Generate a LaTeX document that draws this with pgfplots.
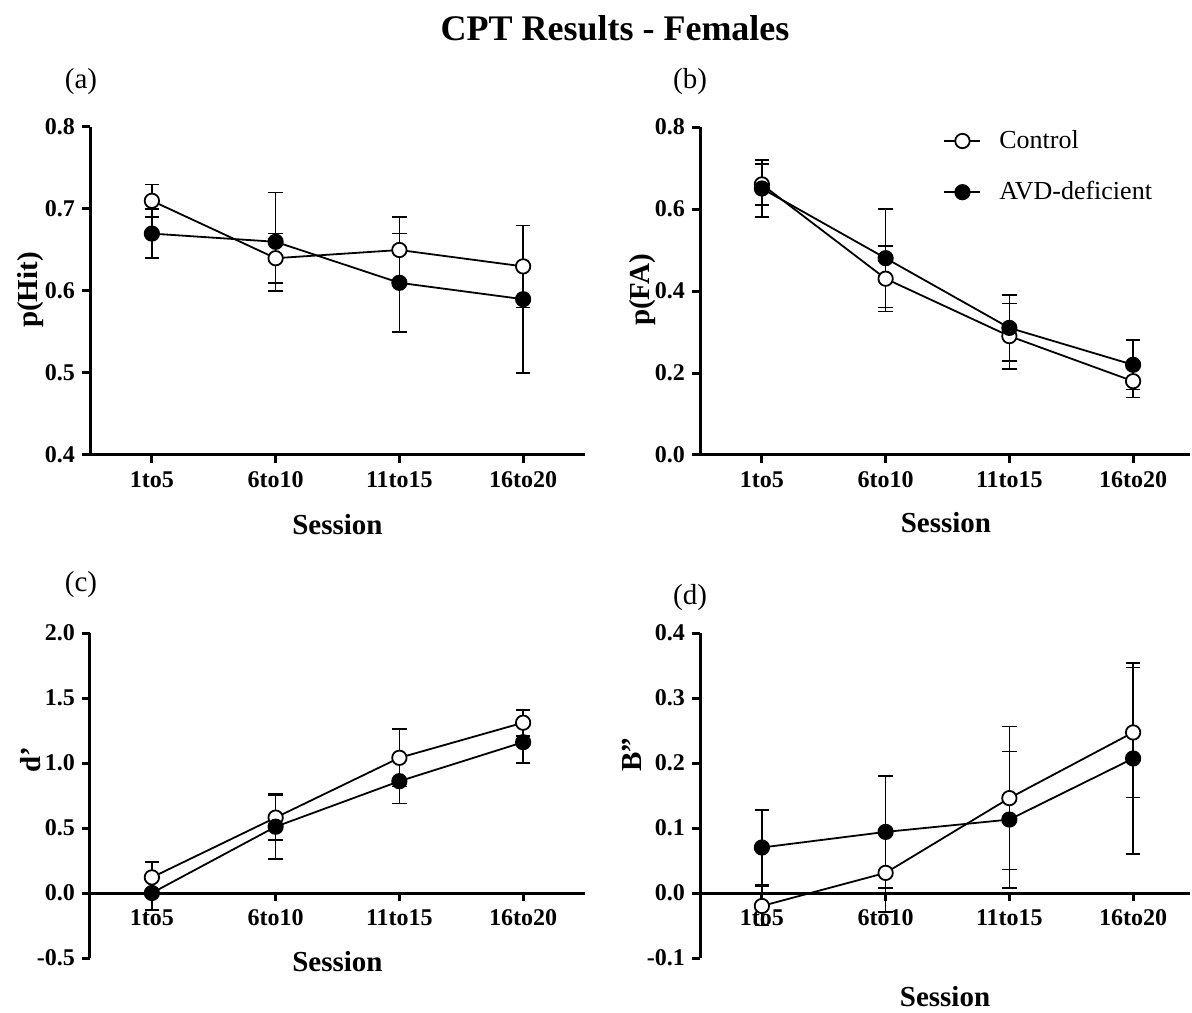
\documentclass[border=0pt]{standalone}
\usepackage{pgfplots}
\pgfplotsset{compat=1.18}
\usepackage{fontspec}
\setmainfont{Liberation Serif}

\pgfplotsset{
  cpt/.style={
    scale only axis,
    clip=false,
    xmin=-0.5, xmax=3.5,
    xtick={0,1,2,3},
    xticklabels={1to5,6to10,11to15,16to20},
    axis y line*=left,
    axis line style={line width=1.5pt},
    every tick/.style={black, line width=1.5pt},
    major tick length=4pt,
    tick align=outside,
    hide obscured x ticks=false,
    hide obscured y ticks=false,
    /pgf/number format/assume math mode=true,
    ticklabel style={font=\fontsize{12}{14}\selectfont\bfseries},
    xticklabel style={text height=8.5pt, text depth=0pt},
    yticklabel style={/pgf/number format/.cd, fixed, fixed zerofill, precision=1},
    label style={font=\fontsize{14.5}{16}\selectfont\bfseries},
    xlabel={Session},
  },
  ctrl/.style={black, line width=0.9pt, mark=*, mark size=3.6pt,
    mark options={fill=white, line width=0.9pt},
    error bars/.cd, y dir=both, y explicit,
    error bar style={line width=0.8pt},
    error mark options={rotate=90, line width=0.8pt, mark size=3.6pt}},
  avd/.style={black, line width=0.9pt, mark=*, mark size=3.6pt,
    mark options={fill=black, line width=0.9pt},
    error bars/.cd, y dir=both, y explicit,
    error bar style={line width=0.8pt},
    error mark options={rotate=90, line width=0.8pt, mark size=3.6pt}},
}

\begin{document}
\begin{tikzpicture}
\useasboundingbox (0,0) rectangle (596pt,506pt);

\node[font=\fontsize{18}{20}\selectfont\bfseries] at (307.5pt,492pt) {CPT Results - Females};
\node[font=\fontsize{14.5}{16}\selectfont] at (40.5pt,465pt) {(a)};
\node[font=\fontsize{14.5}{16}\selectfont] at (345pt,465pt) {(b)};
\node[font=\fontsize{14.5}{16}\selectfont] at (40.5pt,213.5pt) {(c)};
\node[font=\fontsize{14.5}{16}\selectfont] at (345pt,207pt) {(d)};

% (a) p(Hit)
\begin{axis}[cpt, at={(45pt,278.5pt)}, anchor=south west,
  width=247.5pt, height=164pt,
  axis x line*=bottom,
  ymin=0.4, ymax=0.8, ytick={0.4,0.5,0.6,0.7,0.8},
  ylabel={p(Hit)},
  xlabel style={at={(axis description cs:0.5,-0.213)}, anchor=center},
  ylabel style={at={(axis description cs:-0.121,0.503)}, anchor=center},
]
\addplot[ctrl] coordinates {(0,0.71) +- (0,0.02) (1,0.64) +- (0,0.03) (2,0.65) +- (0,0.04) (3,0.63) +- (0,0.05)};
\addplot[avd] coordinates {(0,0.67) +- (0,0.03) (1,0.66) +- (0,0.06) (2,0.61) +- (0,0.06) (3,0.59) +- (0,0.09)};
\end{axis}

% (b) p(FA)
\begin{axis}[cpt, at={(350pt,278.5pt)}, anchor=south west,
  width=245pt, height=164pt, xmax=3.46,
  axis x line*=bottom,
  ymin=0, ymax=0.8, ytick={0,0.2,0.4,0.6,0.8},
  ylabel={p(FA)},
  xlabel style={at={(axis description cs:0.502,-0.207)}, anchor=center},
  ylabel style={at={(axis description cs:-0.118,0.503)}, anchor=center},
  legend cell align=left,
  legend image code/.code={\draw[mark repeat=2, mark phase=2] plot coordinates {(0pt,0pt) (9pt,0pt) (18pt,0pt)};},
  legend style={at={(axis description cs:0.484,1.015)}, anchor=north west,
    draw=none, fill=none, font=\fontsize{13}{15}\selectfont,
    row sep=11pt, column sep=7pt},
]
\addplot[ctrl] coordinates {(0,0.66) +- (0,0.05) (1,0.43) +- (0,0.08) (2,0.29) +- (0,0.08) (3,0.18) +- (0,0.04)};
\addlegendentry{Control}
\addplot[avd] coordinates {(0,0.65) +- (0,0.07) (1,0.48) +- (0,0.12) (2,0.31) +- (0,0.08) (3,0.22) +- (0,0.06)};
\addlegendentry{AVD-deficient}
\end{axis}

% (c) d'
\begin{axis}[cpt, at={(45pt,27pt)}, anchor=south west,
  width=247.5pt, height=162.5pt,
  axis x line*=middle, tick align=outside,
  ymin=-0.5, ymax=2.0, ytick={-0.5,0,0.5,1.0,1.5,2.0},
  ylabel={d'},
  xlabel style={at={(axis description cs:0.5,-0.012)}, anchor=center},
  ylabel style={at={(axis description cs:-0.121,0.61)}, anchor=center},
]
\addplot[ctrl] coordinates {(0,0.12) +- (0,0.12) (1,0.58) +- (0,0.17) (2,1.04) +- (0,0.22) (3,1.31) +- (0,0.10)};
\addplot[avd] coordinates {(0,0.0) +- (0,0.13) (1,0.51) +- (0,0.25) (2,0.86) +- (0,0.17) (3,1.16) +- (0,0.16)};
\end{axis}

% (d) B''
\begin{axis}[cpt, at={(350pt,27pt)}, anchor=south west,
  width=245pt, height=162.5pt, xmax=3.46,
  axis x line*=middle, tick align=outside,
  ymin=-0.1, ymax=0.4, ytick={-0.1,0,0.1,0.2,0.3,0.4},
  ylabel={B''},
  xlabel style={at={(axis description cs:0.5,-0.12)}, anchor=center},
  ylabel style={at={(axis description cs:-0.139,0.625)}, anchor=center},
]
\addplot[ctrl] coordinates {(0,-0.02) +- (0,0.03) (1,0.031) +- (0,0.06) (2,0.146) +- (0,0.11) (3,0.247) +- (0,0.10)};
\addplot[avd] coordinates {(0,0.07) +- (0,0.058) (1,0.094) +- (0,0.086) (2,0.113) +- (0,0.105) (3,0.207) +- (0,0.147)};
\end{axis}
\end{tikzpicture}
\end{document}
